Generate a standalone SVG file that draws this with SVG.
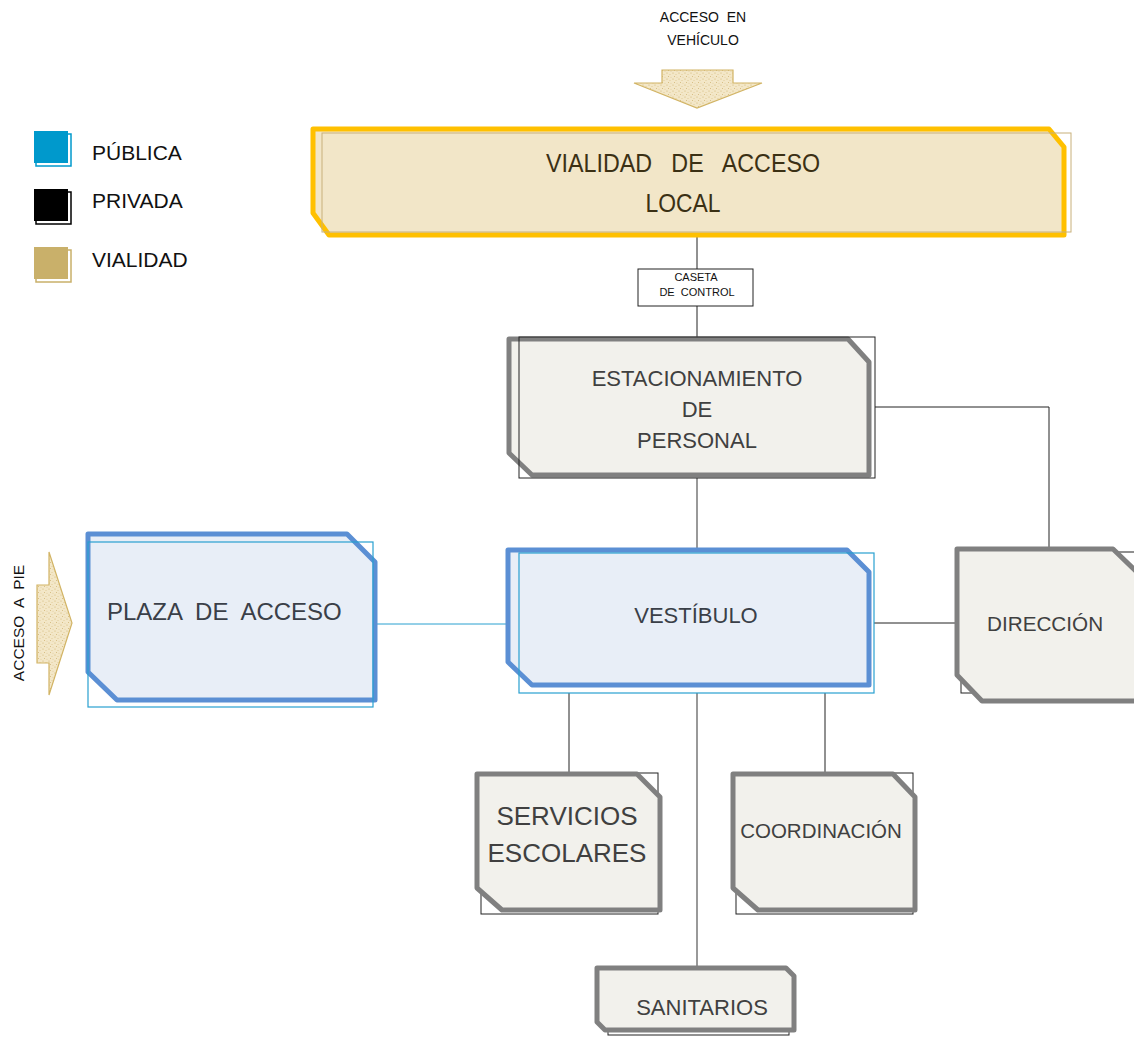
<svg xmlns="http://www.w3.org/2000/svg" width="1134" height="1038" viewBox="0 0 1134 1038">
<defs>
<pattern id="speckle" width="6" height="6" patternUnits="userSpaceOnUse">
<rect width="6" height="6" fill="#f3e7c8"/>
<circle cx="1" cy="1" r="0.6" fill="#d0b270"/>
<circle cx="4" cy="2.5" r="0.5" fill="#dcc48a"/>
<circle cx="2.5" cy="4.5" r="0.5" fill="#d0b270"/>
<circle cx="5" cy="5.2" r="0.4" fill="#c8a868"/>
</pattern>
<style>
text{font-family:"Liberation Sans",Arial,sans-serif;}
.conn{stroke:#222;stroke-width:1;fill:none;}
.connb{stroke:#29a0d0;stroke-width:1;fill:none;}
.connm{stroke:#555;stroke-width:1.2;fill:none;}
.priv{fill:#f2f1ec;stroke:#808080;stroke-width:5;stroke-linejoin:round;}
.pub{fill:#e8eef7;stroke:#5b8fd4;stroke-width:5;stroke-linejoin:round;}
.thinp{fill:none;stroke:#222;stroke-width:1;}
.thinb{fill:none;stroke:#29a0d0;stroke-width:1.2;}
.lbl{fill:#404040;text-anchor:middle;}
.pubtxt{fill:#3a3f48;text-anchor:middle;}
.leg{fill:#111;font-size:21px;}
.arrow{fill:url(#speckle);stroke:#d2b465;stroke-width:1.2;}
</style>
</defs>

<!-- Legend -->
<g id="legend">
<rect x="36" y="134" width="35" height="32" fill="none" stroke="#0099cc" stroke-width="1.5"/>
<rect x="34" y="131" width="34" height="32" fill="#0099cc"/>
<text class="leg" x="92" y="160">PÚBLICA</text>
<rect x="36" y="192" width="35" height="32" fill="none" stroke="#000" stroke-width="1.5"/>
<rect x="34" y="189" width="34" height="32" fill="#000"/>
<text class="leg" x="92" y="208">PRIVADA</text>
<rect x="36" y="250" width="35" height="32" fill="none" stroke="#c9b06a" stroke-width="1.5"/>
<rect x="34" y="247" width="34" height="32" fill="#c9b06a"/>
<text class="leg" x="92" y="267">VIALIDAD</text>
</g>

<!-- Access arrows -->
<g id="acceso-vehiculo">
<text x="703" y="22" font-size="14" fill="#111" text-anchor="middle" xml:space="preserve">ACCESO  EN</text>
<text x="703" y="45" font-size="14" fill="#111" text-anchor="middle">VEHÍCULO</text>
<polygon class="arrow" points="662,70 733,70 733,83 762,83 697,108 634,83 662,83"/>
</g>
<g id="acceso-pie">
<polygon class="arrow" points="37,585 49,585 49,552 72,623 49,695 49,663 37,663"/>
<text x="0" y="0" font-size="15.5" fill="#111" text-anchor="middle" transform="translate(24,623) rotate(-90)" xml:space="preserve">ACCESO  A  PIE</text>
</g>

<!-- Connectors -->
<g id="connectors">
<line class="conn" x1="697" y1="235" x2="697" y2="269"/>
<line class="conn" x1="697" y1="306" x2="697" y2="338"/>
<line class="connm" x1="697" y1="478" x2="697" y2="549"/>
<polyline class="conn" points="875,407 1049,407 1049,549"/>
<line class="connb" x1="375" y1="624" x2="519" y2="624"/>
<line class="conn" x1="874" y1="623" x2="957" y2="623"/>
<line class="conn" x1="569" y1="693" x2="569" y2="773"/>
<line class="conn" x1="825" y1="693" x2="825" y2="773"/>
<line class="connm" x1="697" y1="693" x2="697" y2="968"/>
</g>

<!-- Vialidad -->
<g id="vialidad">
<polygon points="313,129 1049,129 1064,147 1064,235 329,235 313,213" fill="#f2e6c8" stroke="#ffc000" stroke-width="5" stroke-linejoin="round"/>
<rect x="322" y="133" width="749" height="99" fill="none" stroke="#c8b07a" stroke-width="1"/>
<text x="683" y="172" font-size="25" fill="#3b3014" text-anchor="middle" textLength="274" lengthAdjust="spacingAndGlyphs" xml:space="preserve">VIALIDAD   DE   ACCESO</text>
<text x="683" y="212" font-size="25" fill="#3b3014" text-anchor="middle" textLength="75" lengthAdjust="spacingAndGlyphs">LOCAL</text>
</g>

<!-- Caseta -->
<g id="caseta">
<rect x="638" y="269" width="115" height="37" fill="#fff" stroke="#222" stroke-width="1"/>
<text x="696" y="281" font-size="11" fill="#111" text-anchor="middle">CASETA</text>
<text x="697" y="296" font-size="11" fill="#111" text-anchor="middle" xml:space="preserve">DE  CONTROL</text>
</g>

<!-- Estacionamiento -->
<g id="estacionamiento">
<polygon class="priv" points="509,339 848,339 869,362 869,475 532,475 509,453"/>
<rect class="thinp" x="519" y="337" width="356" height="141"/>
<text class="lbl" x="697" y="386" font-size="22">ESTACIONAMIENTO</text>
<text class="lbl" x="697" y="417" font-size="22">DE</text>
<text class="lbl" x="697" y="448" font-size="22">PERSONAL</text>
</g>

<!-- Plaza de acceso -->
<g id="plaza">
<polygon class="pub" points="88,534 347,534 375,562 375,700 117,700 88,672"/>
<rect class="thinb" x="88" y="542" width="285" height="165"/>
<text x="107" y="620" font-size="24" fill="#3a3f48" xml:space="preserve">PLAZA  DE  ACCESO</text>
</g>

<!-- Vestibulo -->
<g id="vestibulo">
<polygon class="pub" points="508,550 847,550 869,572 869,685 532,685 508,662"/>
<rect class="thinb" x="519" y="553" width="355" height="140"/>
<text class="pubtxt" x="696" y="623" font-size="22">VESTÍBULO</text>
</g>

<!-- Direccion -->
<g id="direccion">
<rect class="thinp" x="961" y="552" width="190" height="141"/>
<polygon class="priv" points="957,549 1113,549 1140,575 1140,701 982,701 957,675"/>
<text x="987" y="631" font-size="20.7" fill="#404040">DIRECCIÓN</text>
</g>

<!-- Servicios escolares -->
<g id="servicios">
<rect class="thinp" x="481" y="773" width="177" height="141"/>
<polygon class="priv" points="477,774 637,774 660,797 660,910 502,910 477,888"/>
<text class="lbl" x="567" y="825" font-size="26">SERVICIOS</text>
<text class="lbl" x="567" y="862" font-size="26">ESCOLARES</text>
</g>

<!-- Coordinacion -->
<g id="coordinacion">
<rect class="thinp" x="736" y="773" width="177" height="141"/>
<polygon class="priv" points="733,774 893,774 915,797 915,910 758,910 733,888"/>
<text class="lbl" x="821" y="838" font-size="20.5">COORDINACIÓN</text>
</g>

<!-- Sanitarios -->
<g id="sanitarios">
<rect class="thinp" x="608" y="972" width="181" height="63"/>
<polygon class="priv" points="597,968 786,968 794,976 794,1030 605,1030 597,1022"/>
<text class="lbl" x="702" y="1015" font-size="22">SANITARIOS</text>
</g>
</svg>
